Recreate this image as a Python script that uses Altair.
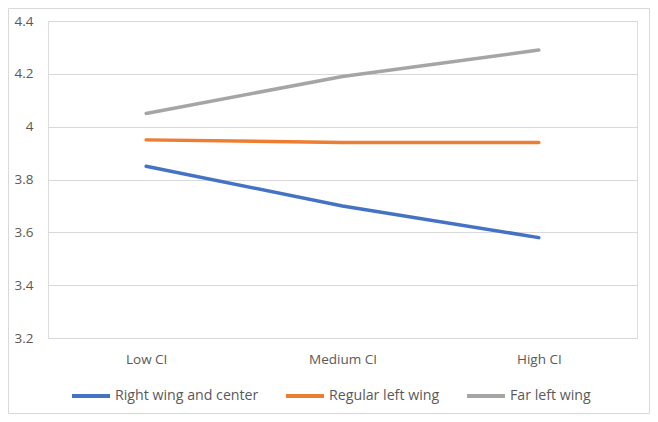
import altair as alt
import pandas as pd

categories = ["Low CI", "Medium CI", "High CI"]
series_names = ["Right wing and center", "Regular left wing", "Far left wing"]
right_wing = [3.85, 3.70, 3.58]
regular_left = [3.95, 3.94, 3.94]
far_left = [4.05, 4.19, 4.29]
y_ticks = [3.2, 3.4, 3.6, 3.8, 4.0, 4.2, 4.4]
colors = ["#4472C4", "#ED7D31", "#A5A5A5"]

rows = []
for name, vals in zip(series_names, [right_wing, regular_left, far_left]):
    for c, v in zip(categories, vals):
        rows.append({"category": c, "series": name, "value": v})
df = pd.DataFrame(rows)

FONT = "Open Sans"
TXT = "#595959"

lines = alt.Chart(df).mark_line(strokeWidth=3.5, strokeCap="round").encode(
    x=alt.X("category:N", sort=categories,
            scale=alt.Scale(type="point", padding=0.5),
            axis=alt.Axis(title=None, labelAngle=0, domain=False, ticks=False,
                          grid=False, labelPadding=14, labelFontSize=13.5,
                          labelColor=TXT, labelFont=FONT)),
    y=alt.Y("value:Q", scale=alt.Scale(domain=[3.2, 4.4], nice=False, zero=False),
            axis=alt.Axis(title=None, values=y_ticks, format="~g", domain=False,
                          ticks=False, gridColor="#D9D9D9", gridWidth=1,
                          labelPadding=15, labelFontSize=13.5, labelColor=TXT,
                          labelFont=FONT)),
    color=alt.Color("series:N",
                    scale=alt.Scale(domain=series_names, range=colors),
                    legend=alt.Legend(title=None, orient="none", direction="horizontal",
                                      legendX=22, legendY=354,
                                      symbolType="stroke", symbolSize=1444,
                                      symbolStrokeWidth=4, labelOffset=3,
                                      columnPadding=19, labelFontSize=14.2,
                                      labelColor=TXT, labelFont=FONT)),
    order=alt.Order("cat_order:Q"),
).transform_calculate(
    cat_order="indexof(['Low CI','Medium CI','High CI'], datum.category)"
)

border = alt.Chart(pd.DataFrame({"a": [0]})).mark_rect(
    fill=None, stroke="#D9D9D9", strokeWidth=1, clip=False
).encode(x=alt.value(-39.5), x2=alt.value(601.5), y=alt.value(-12.5), y2=alt.value(392.5))

chart = alt.layer(border, lines).properties(
    width=589, height=317,
    autosize=alt.AutoSizeParams(type="none"),
    padding={"left": 40, "top": 13, "right": 13, "bottom": 76},
).configure_view(stroke=None).configure(background="white")

chart.save("out.html", embed_options={"renderer": "svg", "actions": False})
